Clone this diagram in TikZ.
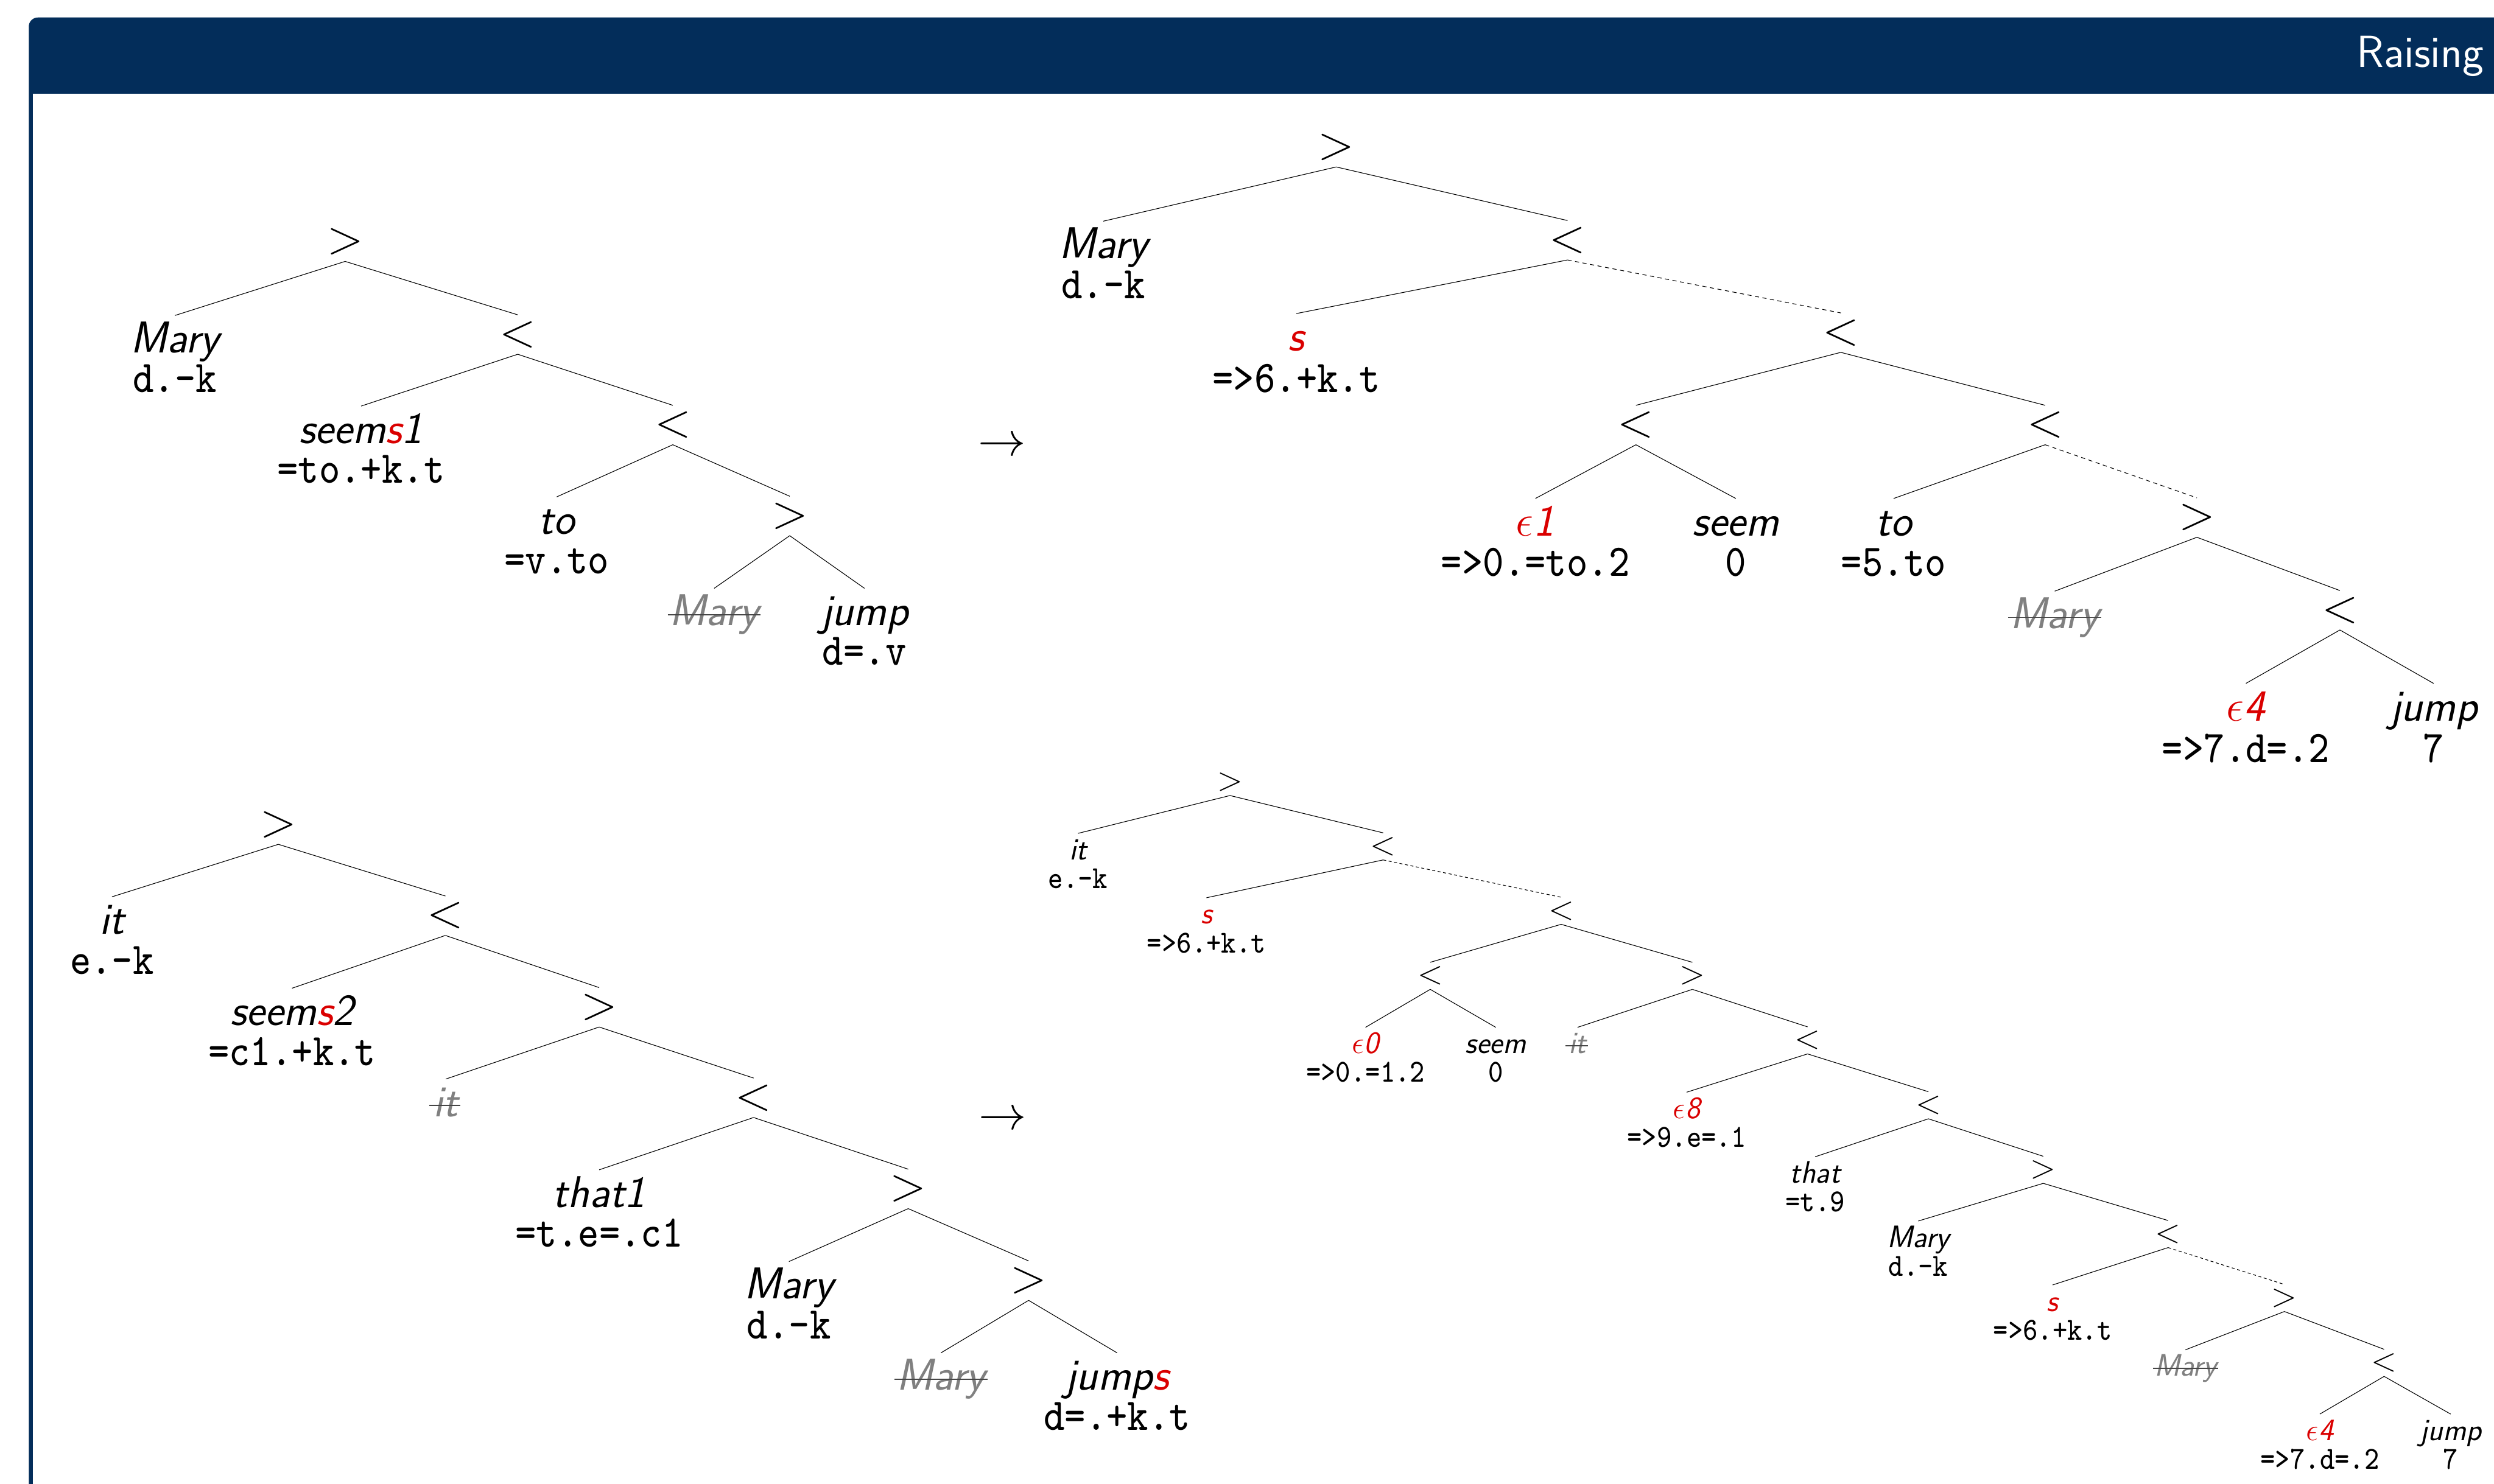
\RequirePackage{fix-cm}
\documentclass[tikz,border=0pt]{standalone}
\usepackage{fontspec}
\newfontfamily\featmono{lmmono8-regular.otf}[FakeStretch=0.87]

\definecolor{titlebg}{RGB}{3,45,90}
\definecolor{hlred}{RGB}{218,0,0}
\definecolor{trace}{RGB}{128,128,128}

\newcommand\hl[1]{\textcolor{hlred}{#1}}

\newcommand\bigword{\fontsize{28}{30}\selectfont\sffamily\itshape}
\newcommand\bigfeat{\featmono\fontsize{28.5}{30}\selectfont}
\newcommand\bigop{\fontsize{30}{32}\selectfont}
\newcommand\smword{\fontsize{19.6}{21}\selectfont\sffamily\itshape}
\newcommand\smfeat{\featmono\fontsize{20.2}{22}\selectfont}
\newcommand\smop{\fontsize{21}{23}\selectfont}

\tikzset{
  branch/.style={line width=0.42pt},
  movebr/.style={branch, dash pattern=on 2.6pt off 2.2pt},
  smovebr/.style={branch, dash pattern=on 1.9pt off 1.6pt},
  strike/.style={line width=0.65pt, draw=trace!55!black},
  op/.style={inner xsep=0pt, inner ysep=3.9pt, font=\bigop},
  sop/.style={inner xsep=0pt, inner ysep=2.5pt, font=\smop},
  word/.style={anchor=north, inner sep=0pt, text height=23.3pt, font=\bigword},
  feat/.style={anchor=base, inner sep=0pt, font=\bigfeat},
  sword/.style={anchor=north, inner sep=0pt, text height=16.3pt, font=\smword},
  sfeat/.style={anchor=base, inner sep=0pt, font=\smfeat},
  gword/.style={word, text=trace},
  sgword/.style={sword, text=trace},
  arrowsym/.style={inner sep=0pt, font=\fontsize{30}{32}\selectfont},
}

\begin{document}
\begin{tikzpicture}[x=1pt, y=-1pt]
\useasboundingbox (0,0) rectangle (1568,933);

% frame with title bar
\fill[titlebg, rounded corners=5.7pt] (18.1,11) rectangle (1640,1000);
\fill[white] (20.8,59) rectangle (1640,1000);
\node[anchor=base west, inner sep=0pt, text=white, font=\fontsize{28.3}{30}\selectfont\sffamily] (ttl) at (1481.5,42.3) {Raising};

% ---------- tree: Mary seems to jump ----------
\node[op] (a0) at (217,152) {$>$};
\node[word] (a1) at (110,198.4) {Mary};
\node[feat] (a1f) at ([yshift=-25pt]a1.base) {d.-k};
\node[op] (a2) at (325.5,210.4) {$<$};
\node[word] (a3) at (227,255.4) {seem\hl{s}1};
\node[feat] (a3f) at ([yshift=-25pt]a3.base) {=to.+k.t};
\node[op] (a4) at (423,267.3) {$<$};
\node[word] (a5) at (350,312.5) {to};
\node[feat] (a5f) at ([yshift=-24.8pt]a5.base) {=v.to};
\node[op] (a6) at (496.5,324.5) {$>$};
\node[gword] (a7) at (449,370) {Mary};
\node[word] (a8) at (543.5,370) {jump};
\node[feat] (a8f) at ([yshift=-24.6pt]a8.base) {d=.v};
\draw[branch] (a0.south) -- (a1.north);
\draw[branch] (a0.south) -- (a2.north);
\draw[branch] (a2.south) -- (a3.north);
\draw[branch] (a2.south) -- (a4.north);
\draw[branch] (a4.south) -- (a5.north);
\draw[branch] (a4.south) -- (a6.north);
\draw[branch] (a6.south) -- (a7.north);
\draw[branch] (a6.south) -- (a8.north);
\draw[strike] ([xshift=-1pt,yshift=6.9pt]a7.base west) -- ([xshift=1pt,yshift=6.9pt]a7.base east);

\node[arrowsym] (arr1) at (630,281) {$\to$};

% ---------- derived tree ----------
\node[op] (b0) at (840.1,92.6) {$>$};
\node[word] (b1) at (693.7,139.1) {Mary};
\node[feat] (b1f) at ([yshift=-25pt]b1.base) {d.-k};
\node[op] (b2) at (985.5,151.1) {$<$};
\node[word] (b3) at (815,197.2) {\hl{s}};
\node[feat] (b3f) at ([yshift=-26pt]b3.base) {=>6.+k.t};
\node[op] (b4) at (1157.3,209.2) {$<$};
\node[op] (b5) at (1028.5,267.3) {$<$};
\node[op] (b6) at (1285.8,267.3) {$<$};
\node[word] (b7) at (965.3,313.5) {\hl{$\epsilon$1}};
\node[feat] (b7f) at ([yshift=-25.5pt]b7.base) {=>0.=to.2};
\node[word] (b8) at (1091.3,313.5) {seem};
\node[feat] (b8f) at ([yshift=-25.5pt]b8.base) {0};
\node[word] (b9) at (1190.5,313.5) {to};
\node[feat] (b9f) at ([yshift=-25.5pt]b9.base) {=5.to};
\node[op] (b10) at (1381.2,325.5) {$>$};
\node[gword] (b11) at (1291.8,371.8) {Mary};
\node[op] (b12) at (1471.1,383.8) {$<$};
\node[word] (b13) at (1412,429.8) {\hl{$\epsilon$4}};
\node[feat] (b13f) at ([yshift=-26pt]b13.base) {=>7.d=.2};
\node[word] (b14) at (1530,429.8) {jump};
\node[feat] (b14f) at ([yshift=-26pt]b14.base) {7};
\draw[branch] (b0.south) -- (b1.north);
\draw[branch] (b0.south) -- (b2.north);
\draw[branch] (b2.south) -- (b3.north);
\draw[movebr] (b2.south) -- (b4.north);
\draw[branch] (b4.south) -- (b5.north);
\draw[branch] (b4.south) -- (b6.north);
\draw[branch] (b5.south) -- (b7.north);
\draw[branch] (b5.south) -- (b8.north);
\draw[branch] (b6.south) -- (b9.north);
\draw[movebr] (b6.south) -- (b10.north);
\draw[branch] (b10.south) -- (b11.north);
\draw[branch] (b10.south) -- (b12.north);
\draw[branch] (b12.south) -- (b13.north);
\draw[branch] (b12.south) -- (b14.north);
\draw[strike] ([xshift=-1pt,yshift=6.9pt]b11.base west) -- ([xshift=1pt,yshift=6.9pt]b11.base east);

% ---------- tree: it seems that Mary jumps ----------
\node[op] (c0) at (175,518.6) {$>$};
\node[word] (c1) at (70.4,564) {it};
\node[feat] (c1f) at ([yshift=-25pt]c1.base) {e.-k};
\node[op] (c2) at (280,575.9) {$<$};
\node[word] (c3) at (183.6,621.5) {seem\hl{s}2};
\node[feat] (c3f) at ([yshift=-25pt]c3.base) {=c1.+k.t};
\node[op] (c4) at (376.7,633.5) {$>$};
\node[gword] (c5) at (280.3,678.6) {it};
\node[op] (c6) at (473.8,690.4) {$<$};
\node[word] (c7) at (376.7,735.7) {that1};
\node[feat] (c7f) at ([yshift=-25pt]c7.base) {=t.e=.c1};
\node[op] (c8) at (571,747.7) {$>$};
\node[word] (c9) at (496,793.4) {Mary};
\node[feat] (c9f) at ([yshift=-25pt]c9.base) {d.-k};
\node[op] (c10) at (646.7,805.4) {$>$};
\node[gword] (c11) at (591.6,850.8) {Mary};
\node[word] (c12) at (702.3,850.8) {jump\hl{s}};
\node[feat] (c12f) at ([yshift=-25pt]c12.base) {d=.+k.t};
\draw[branch] (c0.south) -- (c1.north);
\draw[branch] (c0.south) -- (c2.north);
\draw[branch] (c2.south) -- (c3.north);
\draw[branch] (c2.south) -- (c4.north);
\draw[branch] (c4.south) -- (c5.north);
\draw[branch] (c4.south) -- (c6.north);
\draw[branch] (c6.south) -- (c7.north);
\draw[branch] (c6.south) -- (c8.north);
\draw[branch] (c8.south) -- (c9.north);
\draw[branch] (c8.south) -- (c10.north);
\draw[branch] (c10.south) -- (c11.north);
\draw[branch] (c10.south) -- (c12.north);
\draw[strike] ([xshift=-2.5pt,yshift=6.9pt]c5.base west) -- ([xshift=1pt,yshift=6.9pt]c5.base east);
\draw[strike] ([xshift=-1pt,yshift=6.9pt]c11.base west) -- ([xshift=1pt,yshift=6.9pt]c11.base east);

\node[arrowsym] (arr2) at (630.5,704.7) {$\to$};

% ---------- derived tree (small) ----------
\node[sop] (d0) at (773.3,491.8) {$>$};
\node[sword] (d1) at (677.8,524.1) {it};
\node[sfeat] (d1f) at ([yshift=-18pt]d1.base) {e.-k};
\node[sop] (d2) at (869.6,532.3) {$<$};
\node[sword] (d3) at (758.5,564.6) {\hl{s}};
\node[sfeat] (d3f) at ([yshift=-18pt]d3.base) {=>6.+k.t};
\node[sop] (d4) at (981.5,572.8) {$<$};
\node[sop] (d5) at (899.2,613.7) {$<$};
\node[sop] (d6) at (1064,613.7) {$>$};
\node[sword] (d7) at (858.5,646.1) {\hl{$\epsilon$0}};
\node[sfeat] (d7f) at ([yshift=-18pt]d7.base) {=>0.=1.2};
\node[sword] (d8) at (940.4,646.1) {seem};
\node[sfeat] (d8f) at ([yshift=-18pt]d8.base) {0};
\node[sgword] (d9) at (991.8,646.1) {it};
\node[sop] (d10) at (1136.4,654.3) {$<$};
\node[sword] (d11) at (1060.4,686.9) {\hl{$\epsilon$8}};
\node[sfeat] (d11f) at ([yshift=-18pt]d11.base) {=>9.e=.1};
\node[sop] (d12) at (1212.4,695.1) {$<$};
\node[sword] (d13) at (1141.2,727.5) {that};
\node[sfeat] (d13f) at ([yshift=-18pt]d13.base) {=t.9};
\node[sop] (d14) at (1284.6,735.7) {$>$};
\node[sword] (d15) at (1206,767.9) {Mary};
\node[sfeat] (d15f) at ([yshift=-18pt]d15.base) {d.-k};
\node[sop] (d16) at (1363.1,776.1) {$<$};
\node[sword] (d17) at (1290.5,808.1) {\hl{s}};
\node[sfeat] (d17f) at ([yshift=-18pt]d17.base) {=>6.+k.t};
\node[sop] (d18) at (1436.2,816.3) {$>$};
\node[sgword] (d19) at (1374,848.9) {Mary};
\node[sop] (d20) at (1498.9,857.1) {$<$};
\node[sword] (d21) at (1458.5,889.3) {\hl{$\epsilon$4}};
\node[sfeat] (d21f) at ([yshift=-18pt]d21.base) {=>7.d=.2};
\node[sword] (d22) at (1540.7,889.3) {jump};
\node[sfeat] (d22f) at ([yshift=-18pt]d22.base) {7};
\draw[branch] (d0.south) -- (d1.north);
\draw[branch] (d0.south) -- (d2.north);
\draw[branch] (d2.south) -- (d3.north);
\draw[smovebr] (d2.south) -- (d4.north);
\draw[branch] (d4.south) -- (d5.north);
\draw[branch] (d4.south) -- (d6.north);
\draw[branch] (d5.south) -- (d7.north);
\draw[branch] (d5.south) -- (d8.north);
\draw[branch] (d6.south) -- (d9.north);
\draw[branch] (d6.south) -- (d10.north);
\draw[branch] (d10.south) -- (d11.north);
\draw[branch] (d10.south) -- (d12.north);
\draw[branch] (d12.south) -- (d13.north);
\draw[branch] (d12.south) -- (d14.north);
\draw[branch] (d14.south) -- (d15.north);
\draw[branch] (d14.south) -- (d16.north);
\draw[branch] (d16.south) -- (d17.north);
\draw[smovebr] (d16.south) -- (d18.north);
\draw[branch] (d18.south) -- (d19.north);
\draw[branch] (d18.south) -- (d20.north);
\draw[branch] (d20.south) -- (d21.north);
\draw[branch] (d20.south) -- (d22.north);
\draw[strike] ([xshift=-1.8pt,yshift=4.8pt]d9.base west) -- ([xshift=0.7pt,yshift=4.8pt]d9.base east);
\draw[strike] ([xshift=-0.7pt,yshift=4.8pt]d19.base west) -- ([xshift=0.7pt,yshift=4.8pt]d19.base east);
\end{tikzpicture}
\end{document}
